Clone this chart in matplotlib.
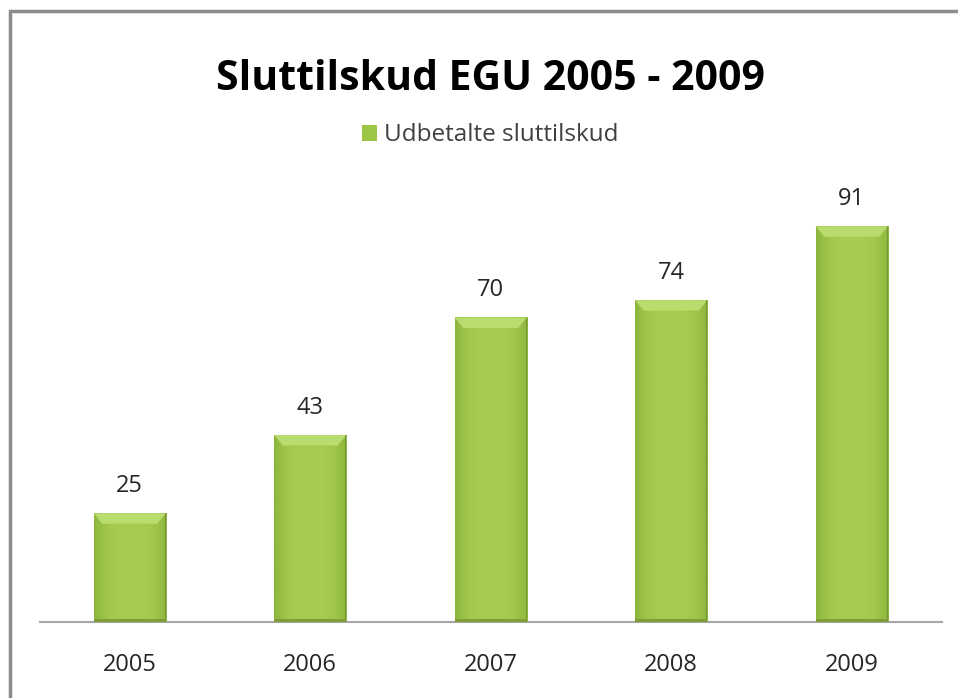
import matplotlib
matplotlib.use("Agg")
import matplotlib.pyplot as plt
import numpy as np
from matplotlib.patches import Rectangle, Polygon
from matplotlib.colors import to_rgb

years = ["2005", "2006", "2007", "2008", "2009"]
values = [25, 43, 70, 74, 91]
series_name = "Udbetalte sluttilskud"
title = "Sluttilskud EGU 2005 - 2009"

plt.rcParams['font.family'] = ['Open Sans', 'DejaVu Sans']

fig = plt.figure(figsize=(9.58, 6.98), dpi=100)
fig.patch.set_facecolor("white")
ax = fig.add_axes([0.0413, 0.1089, 0.942, 0.623])

x = np.arange(len(years))
bars = ax.bar(x, values, width=0.4, color="#9ec645", edgecolor="none",
              label=series_name, zorder=2)

# shaded look for each bar: slightly darker sides, light top bevel
edge_c = np.array(to_rgb("#8db53d"))
mid_c = np.array(to_rgb("#a6cd50"))
prof = np.abs(np.linspace(-1, 1, 60)) ** 3
grad = (mid_c[None, :] * (1 - prof[:, None]) + edge_c[None, :] * prof[:, None])[None, :, :]
bev_x = 0.4 * 0.12  # bevel width in data units
bev_y = 2.4
for b in bars:
    x0, w, h = b.get_x(), b.get_width(), b.get_height()
    ax.imshow(grad, extent=(x0, x0 + w, 0, h), aspect="auto", zorder=3,
              interpolation="bilinear")
    ax.add_patch(Polygon([(x0, h), (x0 + w, h), (x0 + w - bev_x, h - bev_y),
                          (x0 + bev_x, h - bev_y)], closed=True,
                         facecolor="#b9dc6e", edgecolor="none", zorder=4))
    ax.add_patch(Rectangle((x0, 0), w, 0.7, facecolor="#7f9e36",
                           edgecolor="none", zorder=4))
    ax.add_patch(Rectangle((x0 + w - 0.007, 0), 0.007, h, facecolor="#78973a",
                           edgecolor="none", zorder=4))
    ax.annotate(str(int(h)), (x0 + w / 2, h), xytext=(0, 11),
                textcoords="offset points", ha="center", va="bottom",
                fontsize=17, color="#262626")

ax.set_xlim(-0.5, len(years) - 0.5)
ax.set_ylim(0, 100)
ax.set_xticks(x)
ax.set_xticklabels(years, fontsize=17, color="#262626")
ax.tick_params(axis="x", length=0, pad=22)
ax.set_yticks([])
for s in ["top", "right", "left"]:
    ax.spines[s].set_visible(False)
ax.spines["bottom"].set_color("#a6a6a6")
ax.spines["bottom"].set_linewidth(1.5)
ax.set_facecolor("none")

fig.text(0.512, 0.886, title, ha="center", va="center", fontsize=29.5,
         fontweight="bold", color="black")

leg = fig.legend(handles=[bars], labels=[series_name], loc="center",
                 bbox_to_anchor=(0.512, 0.806), frameon=False, fontsize=17.5,
                 handlelength=0.6, handleheight=0.6, handletextpad=0.3)
for t in leg.get_texts():
    t.set_color("#404040")

# outer chart frame
fig.patches.append(Rectangle((10 / 958, -0.1), 1.2, 1.1 - 11 / 698,
                             transform=fig.transFigure, fill=False,
                             edgecolor="#8c8c8c", linewidth=2.5))

fig.savefig("out.png", dpi=100, facecolor="white")
